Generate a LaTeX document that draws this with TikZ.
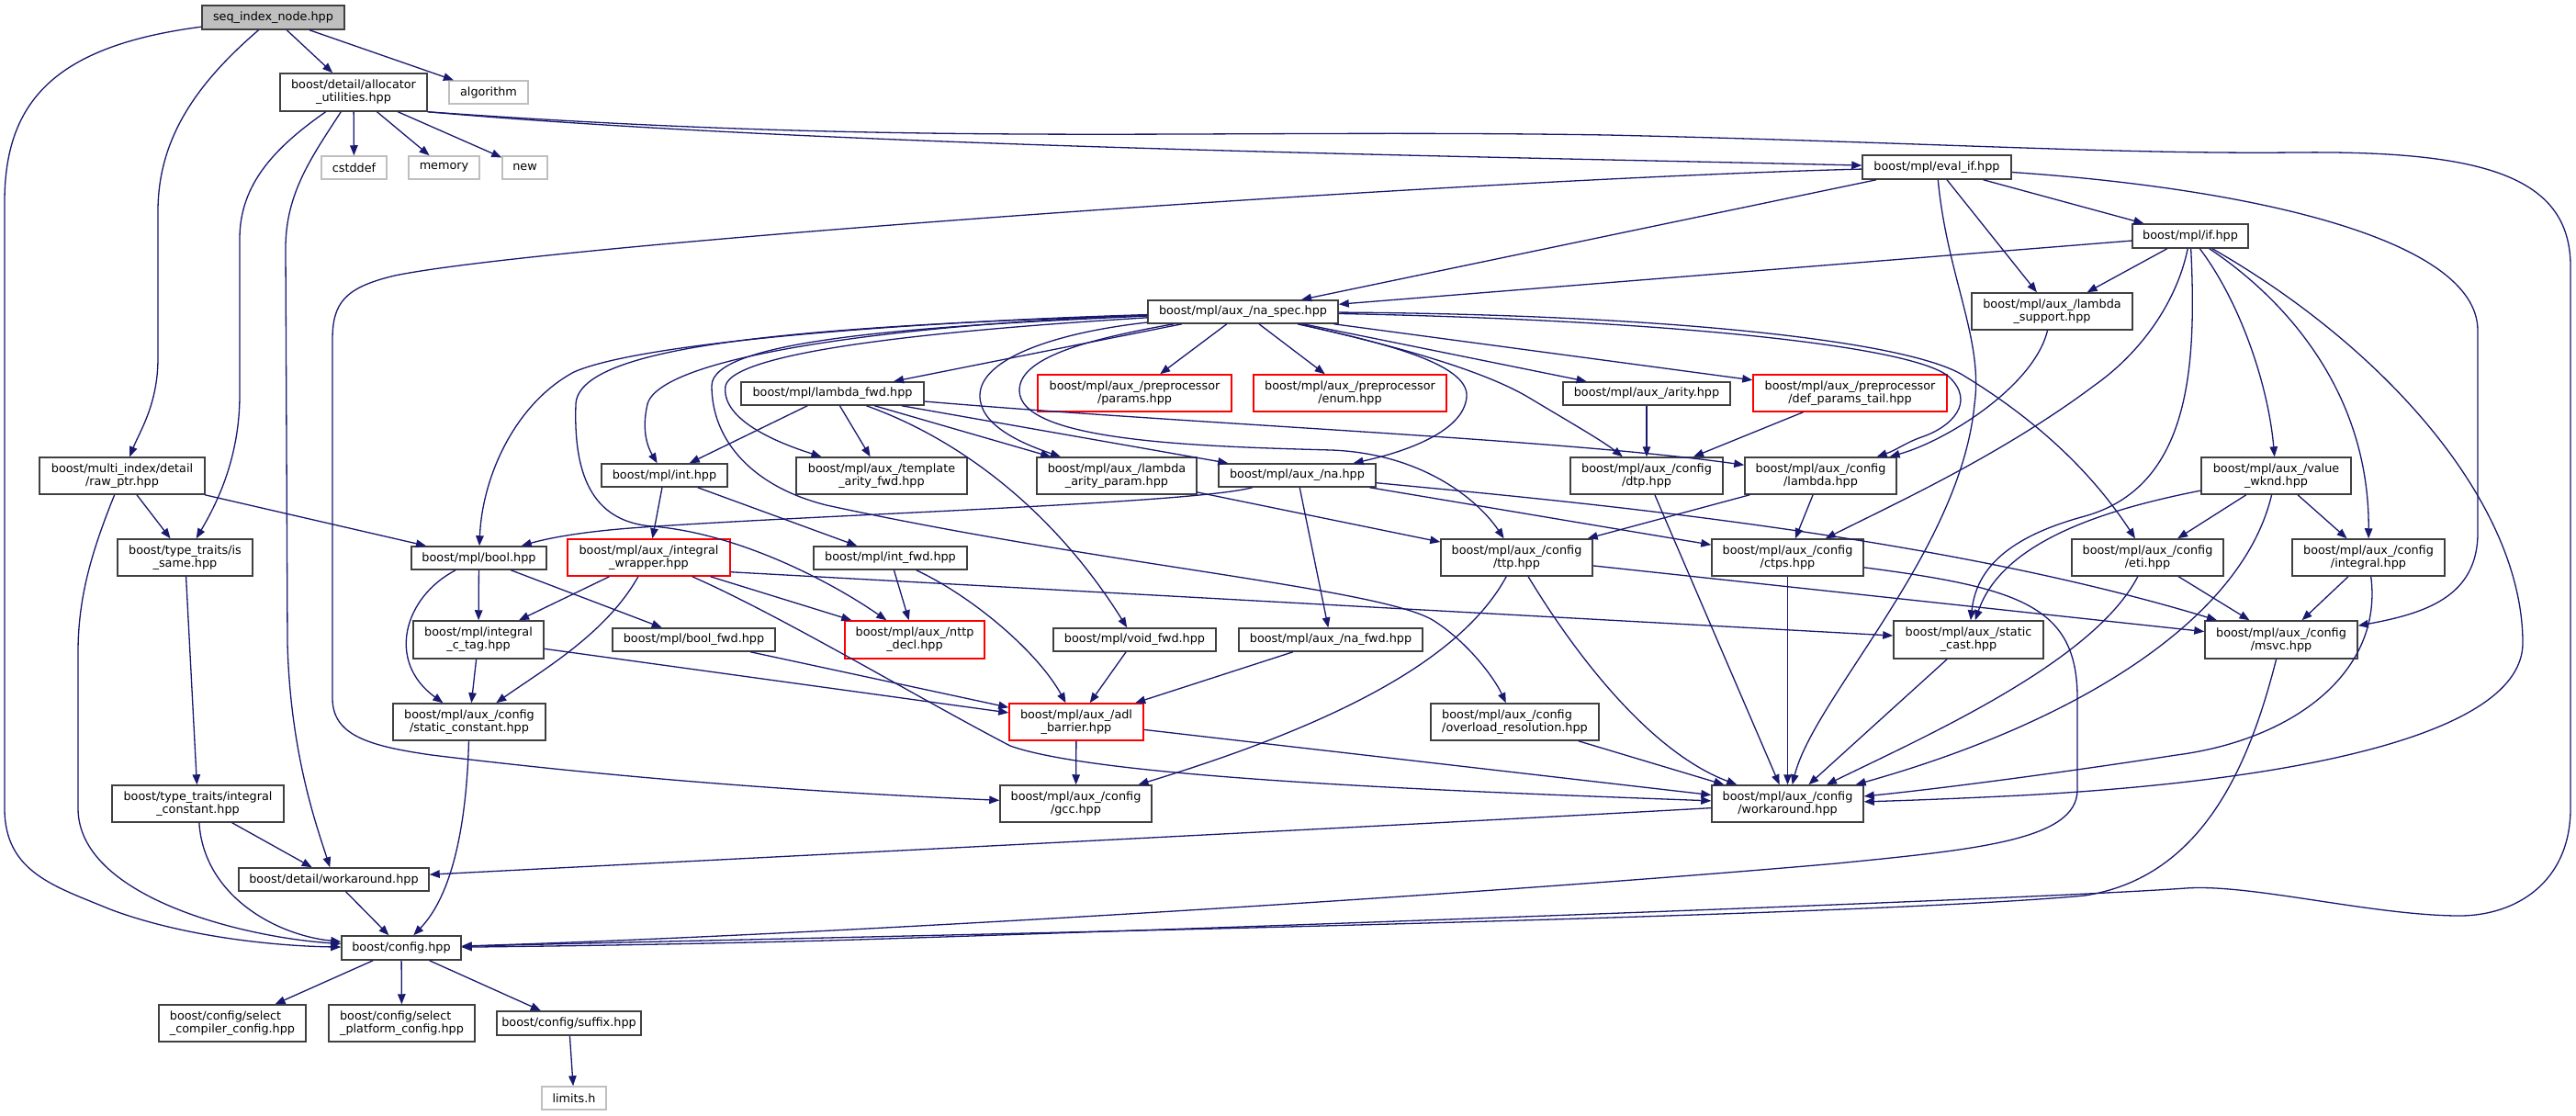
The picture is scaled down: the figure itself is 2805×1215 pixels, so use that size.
\documentclass[tikz,border=0pt]{standalone}
\usepackage{fontspec}
\setmainfont{DejaVu Sans}
\usetikzlibrary{arrows.meta}
\definecolor{edgeblue}{HTML}{191970}
\definecolor{extgray}{HTML}{BFBFBF}
\definecolor{rootgray}{HTML}{BFBFBF}
\definecolor{truncred}{HTML}{FF0000}
\definecolor{boxline}{HTML}{404040}
\newcommand\gfont{\fontsize{12.8}{14}\selectfont}
\tikzset{
  box/.style={draw=boxline, line width=1.5pt, rectangle, inner sep=0pt, align=center, font=\gfont, fill=white, text=black},
  sz/.style 2 args={minimum width=#1pt, minimum height=#2pt},
  ext/.style={box, draw=extgray},
  trunc/.style={box, draw=truncred},
  rootbox/.style={box, fill=rootgray},
  conn/.style={draw=edgeblue, line width=1.3pt, -{Triangle[length=11pt,width=8.5pt]}},
}
\begin{document}
\begin{tikzpicture}[x=1pt,y=-1pt]
\useasboundingbox (0,0) rectangle (2805,1215);
\fill[white] (0,0) rectangle (2805,1215);

% ---------------- nodes ----------------
\node[rootbox,sz={155}{26}] (root) at (297.5,19) {seq\_index\_node.hpp};
\node[box,sz={160}{41}] (alloc) at (385,100.5) {boost/detail/allocator\\\_utilities.hpp};
\node[ext,sz={86}{25}] (algorithm) at (532,100.5) {algorithm};
\node[ext,sz={71}{25}] (cstddef) at (385.5,182.5) {cstddef};
\node[ext,sz={77}{25}] (memory) at (483.5,182.5) {memory};
\node[ext,sz={49}{25}] (newh) at (571.5,182.5) {new};
\node[box,sz={162}{26}] (evalif) at (2109,182) {boost/mpl/eval\_if.hpp};
\node[box,sz={126}{26}] (ifh) at (2385,257) {boost/mpl/if.hpp};
\node[box,sz={207}{25}] (naspec) at (1353.5,339.5) {boost/mpl/aux\_/na\_spec.hpp};
\node[box,sz={175}{40}] (lsupport) at (2234.5,339) {boost/mpl/aux\_/lambda\\\_support.hpp};
\node[trunc,sz={211}{40}] (params) at (1235.5,428) {boost/mpl/aux\_/preprocessor\\/params.hpp};
\node[trunc,sz={210}{40}] (enumh) at (1470,428) {boost/mpl/aux\_/preprocessor\\/enum.hpp};
\node[box,sz={182}{25}] (arity) at (1793,428.5) {boost/mpl/aux\_/arity.hpp};
\node[trunc,sz={211}{40}] (dpt) at (2014.5,428) {boost/mpl/aux\_/preprocessor\\/def\_params\_tail.hpp};
\node[box,sz={199}{25}] (lfwd) at (906.5,428.5) {boost/mpl/lambda\_fwd.hpp};
\node[box,sz={186}{40}] (taf) at (960,518) {boost/mpl/aux\_/template\\\_arity\_fwd.hpp};
\node[box,sz={174}{40}] (lap) at (1216,518) {boost/mpl/aux\_/lambda\\\_arity\_param.hpp};
\node[box,sz={171}{25}] (na) at (1412.5,517.5) {boost/mpl/aux\_/na.hpp};
\node[box,sz={166}{40}] (dtp) at (1793,518) {boost/mpl/aux\_/config\\/dtp.hpp};
\node[box,sz={165}{40}] (clambda) at (1982.5,518) {boost/mpl/aux\_/config\\/lambda.hpp};
\node[box,sz={163}{40}] (vwknd) at (2478.5,518) {boost/mpl/aux\_/value\\\_wknd.hpp};
\node[box,sz={180}{40}] (rawptr) at (133,518) {boost/multi\_index/detail\\/raw\_ptr.hpp};
\node[box,sz={137}{25}] (inth) at (723.5,517.5) {boost/mpl/int.hpp};
\node[box,sz={147}{40}] (issame) at (201.5,607) {boost/type\_traits/is\\\_same.hpp};
\node[box,sz={147}{25}] (boolh) at (521.5,607.5) {boost/mpl/bool.hpp};
\node[trunc,sz={177}{40}] (iwrap) at (706.5,607) {boost/mpl/aux\_/integral\\\_wrapper.hpp};
\node[box,sz={167}{25}] (intfwd) at (969.5,607.5) {boost/mpl/int\_fwd.hpp};
\node[box,sz={165}{40}] (ttp) at (1651.5,607) {boost/mpl/aux\_/config\\/ttp.hpp};
\node[box,sz={165}{40}] (ctps) at (1946.5,607) {boost/mpl/aux\_/config\\/ctps.hpp};
\node[box,sz={165}{40}] (eti) at (2338.5,607) {boost/mpl/aux\_/config\\/eti.hpp};
\node[box,sz={166}{40}] (cintegral) at (2579,607) {boost/mpl/aux\_/config\\/integral.hpp};
\node[box,sz={142}{41}] (ictag) at (521,696.5) {boost/mpl/integral\\\_c\_tag.hpp};
\node[box,sz={177}{25}] (boolfwd) at (755.5,696.5) {boost/mpl/bool\_fwd.hpp};
\node[trunc,sz={152}{41}] (nttp) at (996,696.5) {boost/mpl/aux\_/nttp\\\_decl.hpp};
\node[box,sz={177}{25}] (voidfwd) at (1235.5,696.5) {boost/mpl/void\_fwd.hpp};
\node[box,sz={200}{25}] (nafwd) at (1449,696.5) {boost/mpl/aux\_/na\_fwd.hpp};
\node[box,sz={163}{41}] (scast) at (2143.5,696.5) {boost/mpl/aux\_/static\\\_cast.hpp};
\node[box,sz={166}{41}] (msvc) at (2484,696.5) {boost/mpl/aux\_/config\\/msvc.hpp};
\node[box,sz={166}{40}] (sconst) at (511,786) {boost/mpl/aux\_/config\\/static\_constant.hpp};
\node[trunc,sz={146}{40}] (adl) at (1172,786) {boost/mpl/aux\_/adl\\\_barrier.hpp};
\node[box,sz={183}{40},align=left] (ovres) at (1649.5,786) {boost/mpl/aux\_/config\\/overload\_resolution.hpp};
\node[box,sz={187}{40}] (iconst) at (215.5,875) {boost/type\_traits/integral\\\_constant.hpp};
\node[box,sz={165}{40}] (gcc) at (1171.5,875) {boost/mpl/aux\_/config\\/gcc.hpp};
\node[box,sz={165}{40}] (cwork) at (1946.5,875) {boost/mpl/aux\_/config\\/workaround.hpp};
\node[box,sz={207}{25}] (dwork) at (363.5,957.5) {boost/detail/workaround.hpp};
\node[box,sz={130}{26}] (config) at (437,1032) {boost/config.hpp};
\node[box,sz={160}{40},align=left] (selcomp) at (253,1114) {boost/config/select\\\_compiler\_config.hpp};
\node[box,sz={159}{40},align=left] (selplat) at (437.5,1114) {boost/config/select\\\_platform\_config.hpp};
\node[box,sz={157}{26}] (suffix) at (619.5,1114) {boost/config/suffix.hpp};
\node[ext,sz={70}{25}] (limits) at (625,1195.5) {limits.h};

% ---------------- edges ----------------
% root
\draw[conn] (root) -- (algorithm);
\draw[conn] (root) -- (alloc);
\draw[conn] (root) .. controls (215,90) and (172,150) .. (172,230) -- (172,390) .. controls (172,440) and (152,470) .. (rawptr);
\draw[conn] (root) .. controls (60,50) and (5,110) .. (5,220) -- (5,880) .. controls (5,950) and (60,965) .. (120,990) .. controls (200,1020) and (300,1030) .. (config);
% allocator_utilities
\draw[conn] (alloc) -- (cstddef);
\draw[conn] (alloc) -- (memory);
\draw[conn] (alloc) -- (newh);
\draw[conn] (alloc) .. controls (300,160) and (261,200) .. (261,260) -- (261,430) .. controls (261,500) and (235,550) .. (issame);
\draw[conn] (alloc) .. controls (340,170) and (311,210) .. (311,270) -- (313,700) .. controls (316,820) and (345,900) .. (dwork);
\draw[conn] (alloc.south east) .. controls (900,160) and (1600,170) .. (evalif);
\draw[conn] (alloc.south east) .. controls (1000,160) and (1300,140) .. (1750,147) .. controls (2100,155) and (2300,168) .. (2500,166) .. controls (2700,164) and (2799,190) .. (2799,290) -- (2799,880) .. controls (2799,960) and (2740,998) .. (2675,997) .. controls (2580,996) and (2450,962) .. (2380,967) .. controls (2200,980) and (1200,1015) .. (900,1024) .. controls (700,1029) and (600,1030) .. (config);
% eval_if
\draw[conn] (evalif) -- (ifh);
\draw[conn] (evalif) -- (naspec);
\draw[conn] (evalif) -- (lsupport);
\draw[conn] (evalif) .. controls (2450,205) and (2698,260) .. (2698,360) -- (2698,580) .. controls (2698,650) and (2640,668) .. (msvc);
\draw[conn] (evalif) .. controls (1600,195) and (600,265) .. (430,300) .. controls (375,313) and (362,330) .. (362,370) -- (362,760) .. controls (362,800) and (400,812) .. (470,822) .. controls (700,850) and (900,863) .. (gcc);
\draw[conn] (evalif) .. controls (2120,300) and (2160,370) .. (2150,440) .. controls (2135,600) and (1975,760) .. (cwork);
% if
\draw[conn] (ifh) -- (naspec);
\draw[conn] (ifh) -- (lsupport);
\draw[conn] (ifh) .. controls (2370,330) and (2330,385) .. (2280,420) .. controls (2180,495) and (2060,550) .. (ctps);
\draw[conn] (ifh) .. controls (2392,400) and (2385,530) .. (2270,562) .. controls (2185,585) and (2152,620) .. (scast);
\draw[conn] (ifh) .. controls (2440,330) and (2470,420) .. (vwknd);
\draw[conn] (ifh) .. controls (2480,320) and (2580,420) .. (cintegral);
\draw[conn] (ifh) .. controls (2600,380) and (2747,550) .. (2747,700) .. controls (2747,800) and (2500,850) .. (2200,866) .. controls (2120,870) and (2060,872) .. (cwork);
% na_spec
\draw[conn] (naspec) -- (lfwd);
\draw[conn] (naspec) .. controls (1000,352) and (720,385) .. (705,440) .. controls (698,470) and (706,488) .. (inth);
\draw[conn] (naspec) .. controls (1000,350) and (700,372) .. (625,405) .. controls (560,440) and (525,520) .. (boolh);
\draw[conn] (naspec) .. controls (1050,358) and (800,380) .. (790,420) .. controls (785,455) and (840,480) .. (taf);
\draw[conn] (naspec) .. controls (900,355) and (630,372) .. (627,440) .. controls (624,525) and (650,568) .. (710,573) .. controls (800,580) and (900,630) .. (nttp);
\draw[conn] (naspec) .. controls (1000,355) and (775,370) .. (775,420) .. controls (775,480) and (820,530) .. (900,550) .. controls (1200,615) and (1500,640) .. (1560,675) .. controls (1600,700) and (1628,740) .. (ovres);
\draw[conn] (naspec) .. controls (1150,362) and (1068,390) .. (1067,430) .. controls (1066,462) and (1110,482) .. (lap);
\draw[conn] (naspec) .. controls (1180,370) and (1110,390) .. (1110,425) .. controls (1110,480) and (1300,486) .. (1450,490) .. controls (1550,494) and (1610,545) .. (ttp);
\draw[conn] (naspec) .. controls (1500,372) and (1600,395) .. (1597,432) .. controls (1594,470) and (1530,492) .. (na);
\draw[conn] (naspec) -- (enumh);
\draw[conn] (naspec) -- (params);
\draw[conn] (naspec) -- (arity);
\draw[conn] (naspec) -- (dpt);
\draw[conn] (naspec) .. controls (1500,372) and (1610,400) .. (1665,433) .. controls (1710,460) and (1745,480) .. (dtp);
\draw[conn] (naspec) .. controls (1800,342) and (2080,370) .. (2140,410) .. controls (2230,465) and (2285,525) .. (eti);
\draw[conn] (naspec) .. controls (1800,348) and (2080,375) .. (2122,410) .. controls (2152,438) and (2125,465) .. (2092,476) .. controls (2075,482) and (2065,490) .. (clambda);
% lambda_support
\draw[conn] (lsupport) .. controls (2215,420) and (2120,480) .. (clambda);
% lambda_fwd
\draw[conn] (lfwd) -- (inth);
\draw[conn] (lfwd) -- (taf);
\draw[conn] (lfwd) -- (lap);
\draw[conn] (lfwd) .. controls (1050,480) and (1150,560) .. (voidfwd);
\draw[conn] (lfwd) -- (na);
\draw[conn] (lfwd) .. controls (1300,462) and (1700,478) .. (clambda);
% lambda_arity_param
\draw[conn] (lap) -- (ttp);
% na
\draw[conn] (na) .. controls (1300,548) and (900,560) .. (700,574) .. controls (640,578) and (600,585) .. (boolh);
\draw[conn] (na) -- (nafwd);
\draw[conn] (na) -- (ctps);
\draw[conn] (na) .. controls (1700,545) and (2100,580) .. (msvc);
% arity, def_params_tail, dtp
\draw[conn] (arity) -- (dtp);
\draw[conn] (dpt) -- (dtp);
\draw[conn] (dtp) -- (cwork);
% config/lambda
\draw[conn] (clambda) -- (ttp);
\draw[conn] (clambda) -- (ctps);
% ttp
\draw[conn] (ttp) -- (msvc);
\draw[conn] (ttp) .. controls (1590,720) and (1450,790) .. (gcc);
\draw[conn] (ttp) .. controls (1720,720) and (1800,820) .. (cwork);
% ctps
\draw[conn] (ctps) -- (cwork);
\draw[conn] (ctps) .. controls (2200,640) and (2262,660) .. (2262,760) -- (2262,860) .. controls (2262,915) and (2150,925) .. (2000,940) .. controls (1600,975) and (900,1018) .. (config);
% eti
\draw[conn] (eti) -- (msvc);
\draw[conn] (eti) .. controls (2280,720) and (2100,800) .. (cwork);
% config/integral
\draw[conn] (cintegral) -- (msvc);
\draw[conn] (cintegral) .. controls (2595,730) and (2500,805) .. (2370,822) .. controls (2200,848) and (2080,862) .. (cwork);
% value_wknd
\draw[conn] (vwknd) -- (eti);
\draw[conn] (vwknd) -- (cintegral);
\draw[conn] (vwknd) .. controls (2290,555) and (2180,590) .. (scast);
\draw[conn] (vwknd) .. controls (2440,680) and (2250,790) .. (cwork);
% static_cast, msvc, overload_resolution, workaround
\draw[conn] (scast) -- (cwork);
\draw[conn] (msvc) .. controls (2450,830) and (2400,955) .. (2270,975) .. controls (2000,1000) and (900,1020) .. (config);
\draw[conn] (ovres) -- (cwork);
\draw[conn] (cwork) .. controls (1500,900) and (800,935) .. (dwork);
% adl_barrier
\draw[conn] (adl) -- (gcc);
\draw[conn] (adl) -- (cwork);
% int, int_fwd
\draw[conn] (inth) -- (intfwd);
\draw[conn] (inth) -- (iwrap);
\draw[conn] (intfwd) -- (nttp);
\draw[conn] (intfwd) .. controls (1060,650) and (1130,710) .. (adl);
% integral_wrapper
\draw[conn] (iwrap) -- (ictag);
\draw[conn] (iwrap) .. controls (660,690) and (590,730) .. (sconst);
\draw[conn] (iwrap) -- (nttp);
\draw[conn] (iwrap.-10) -- (scast);
\draw[conn] (iwrap) .. controls (850,670) and (1000,760) .. (1100,812) .. controls (1200,848) and (1600,862) .. (cwork);
% bool
\draw[conn] (boolh) -- (ictag);
\draw[conn] (boolh) -- (boolfwd);
\draw[conn] (boolh) .. controls (440,650) and (420,720) .. (sconst);
\draw[conn] (boolfwd) -- (adl);
\draw[conn] (ictag) -- (adl);
\draw[conn] (ictag) -- (sconst);
\draw[conn] (voidfwd) -- (adl);
\draw[conn] (nafwd) -- (adl);
\draw[conn] (sconst) .. controls (508,900) and (492,975) .. (config);
% raw_ptr, is_same, integral_constant
\draw[conn] (rawptr) -- (issame);
\draw[conn] (rawptr) -- (boolh);
\draw[conn] (rawptr) .. controls (100,600) and (85,650) .. (85,710) -- (85,880) .. controls (85,975) and (260,1020) .. (config);
\draw[conn] (issame) -- (iconst);
\draw[conn] (iconst) -- (dwork);
\draw[conn] (iconst) .. controls (222,975) and (300,1018) .. (config);
\draw[conn] (dwork) -- (config);
% config
\draw[conn] (config) -- (selcomp);
\draw[conn] (config) -- (selplat);
\draw[conn] (config) -- (suffix);
\draw[conn] (suffix) -- (limits);
\end{tikzpicture}
\end{document}
